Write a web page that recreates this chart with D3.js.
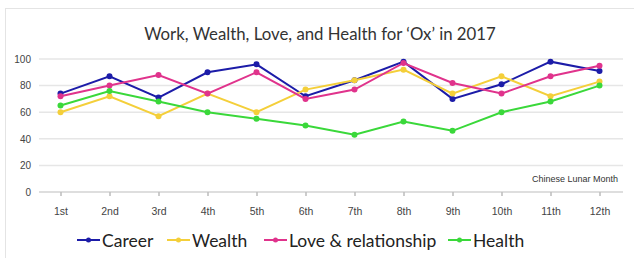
<!DOCTYPE html>
<html>
<head>
<meta charset="utf-8">
<script src="https://cdn.jsdelivr.net/npm/d3@7"></script>
<style>
  body { margin: 0; background: #fff; }
  svg { display: block; }
</style>
</head>
<body>
<div id="chart"></div>
<script>
// chart data
var months = ["1st", "2nd", "3rd", "4th", "5th", "6th", "7th", "8th", "9th", "10th", "11th", "12th"];
var career = [74, 87, 71, 90, 96, 72, 84, 98, 70, 81, 98, 91];
var wealth = [60, 72, 57, 74, 60, 77, 84, 92, 74, 87, 72, 83];
var love = [72, 80, 88, 74, 90, 70, 77, 97, 82, 74, 87, 95];
var health = [65, 76, 68, 60, 55, 50, 43, 53, 46, 60, 68, 80];
var yTicks = [0, 20, 40, 60, 80, 100];

var series = [
    { name: "Career", values: career, color: "#1c1ca8" },
    { name: "Wealth", values: wealth, color: "#f4cf3a" },
    { name: "Love & relationship", values: love, color: "#e0338c" },
    { name: "Health", values: health, color: "#3ad83a" }
];

var width = 634, height = 258;

var svg = d3.select("#chart")
    .append("svg")
    .attr("width", width)
    .attr("height", height);

// light frame round the chart
svg.append("rect")
    .attr("x", 5.5).attr("y", 8.5)
    .attr("width", 640).attr("height", 260)
    .style("fill", "none")
    .style("stroke", "#e4e4e4");

svg.append("text")
    .attr("x", 320).attr("y", 40)
    .attr("text-anchor", "middle")
    .style("font-family", "Lato, 'Open Sans', sans-serif")
    .style("font-size", "16.8px")
    .style("fill", "#333")
    .text("Work, Wealth, Love, and Health for \u2018Ox\u2019 in 2017");

var x = d3.scalePoint().domain(months).range([36, 624]).padding(0.5);
var y = d3.scaleLinear().domain([0, 100]).range([192, 59]);

var left = 39, right = 623;

// gridlines
svg.append("g")
    .selectAll("line")
    .data(yTicks.filter(function(d) { return d > 0; }))
    .enter().append("line")
    .attr("x1", left).attr("x2", right)
    .attr("y1", function(d) { return y(d); })
    .attr("y2", function(d) { return y(d); })
    .style("stroke", "#e6e6e6")
    .style("stroke-width", 1.5);

// y axis labels
var yAxis = svg.append("g")
    .attr("transform", "translate(" + left + ",0)")
    .call(d3.axisLeft(y).tickValues(yTicks).tickSize(0).tickPadding(8));
yAxis.select(".domain").remove();
yAxis.selectAll("text")
    .style("font-family", "'Liberation Sans', Arial, sans-serif")
    .style("font-size", "10px")
    .style("fill", "#444");

// x axis
var xAxis = svg.append("g")
    .attr("transform", "translate(0,192)")
    .call(d3.axisBottom(x).tickSize(4).tickSizeOuter(0).tickPadding(12));
xAxis.select(".domain").remove();
xAxis.append("line")
    .attr("x1", left).attr("x2", right)
    .style("stroke", "#bdbdbd")
    .style("stroke-width", 1.2);
xAxis.selectAll(".tick line").style("stroke", "#999");
xAxis.selectAll("text")
    .style("font-family", "'Liberation Sans', Arial, sans-serif")
    .style("font-size", "10.5px")
    .style("fill", "#444");

svg.append("text")
    .attr("x", 618).attr("y", 182)
    .attr("text-anchor", "end")
    .style("font-family", "'Liberation Sans', Arial, sans-serif")
    .style("font-size", "9px")
    .style("fill", "#333")
    .text("Chinese Lunar Month");

var line = d3.line()
    .x(function(d, i) { return x(months[i]); })
    .y(function(d) { return y(d); });

var lines = svg.selectAll(".series")
    .data(series)
    .enter().append("g")
    .attr("class", "series");

lines.append("path")
    .attr("d", function(d) { return line(d.values); })
    .style("fill", "none")
    .style("stroke", function(d) { return d.color; })
    .style("stroke-width", 2);

lines.selectAll("circle")
    .data(function(d) { return d.values.map(function(v) { return { v: v, c: d.color }; }); })
    .enter().append("circle")
    .attr("cx", function(d, i) { return x(months[i]); })
    .attr("cy", function(d) { return y(d.v); })
    .attr("r", 3)
    .style("fill", function(d) { return d.c; });

// legend
var legendX = [77, 167, 264, 448];
var legend = svg.selectAll(".legend")
    .data(series)
    .enter().append("g")
    .attr("class", "legend")
    .attr("transform", function(d, i) { return "translate(" + legendX[i] + ",240)"; });

legend.append("line")
    .attr("x1", 0).attr("x2", 23)
    .style("stroke", function(d) { return d.color; })
    .style("stroke-width", 2);
legend.append("circle")
    .attr("cx", 11.5).attr("r", 2.5)
    .style("fill", function(d) { return d.color; });
legend.append("text")
    .attr("x", 25).attr("y", 6.5)
    .style("font-family", "Lato, 'Open Sans', sans-serif")
    .style("font-size", "17.5px")
    .style("fill", "#222")
    .text(function(d) { return d.name; });
</script>
</body>
</html>
